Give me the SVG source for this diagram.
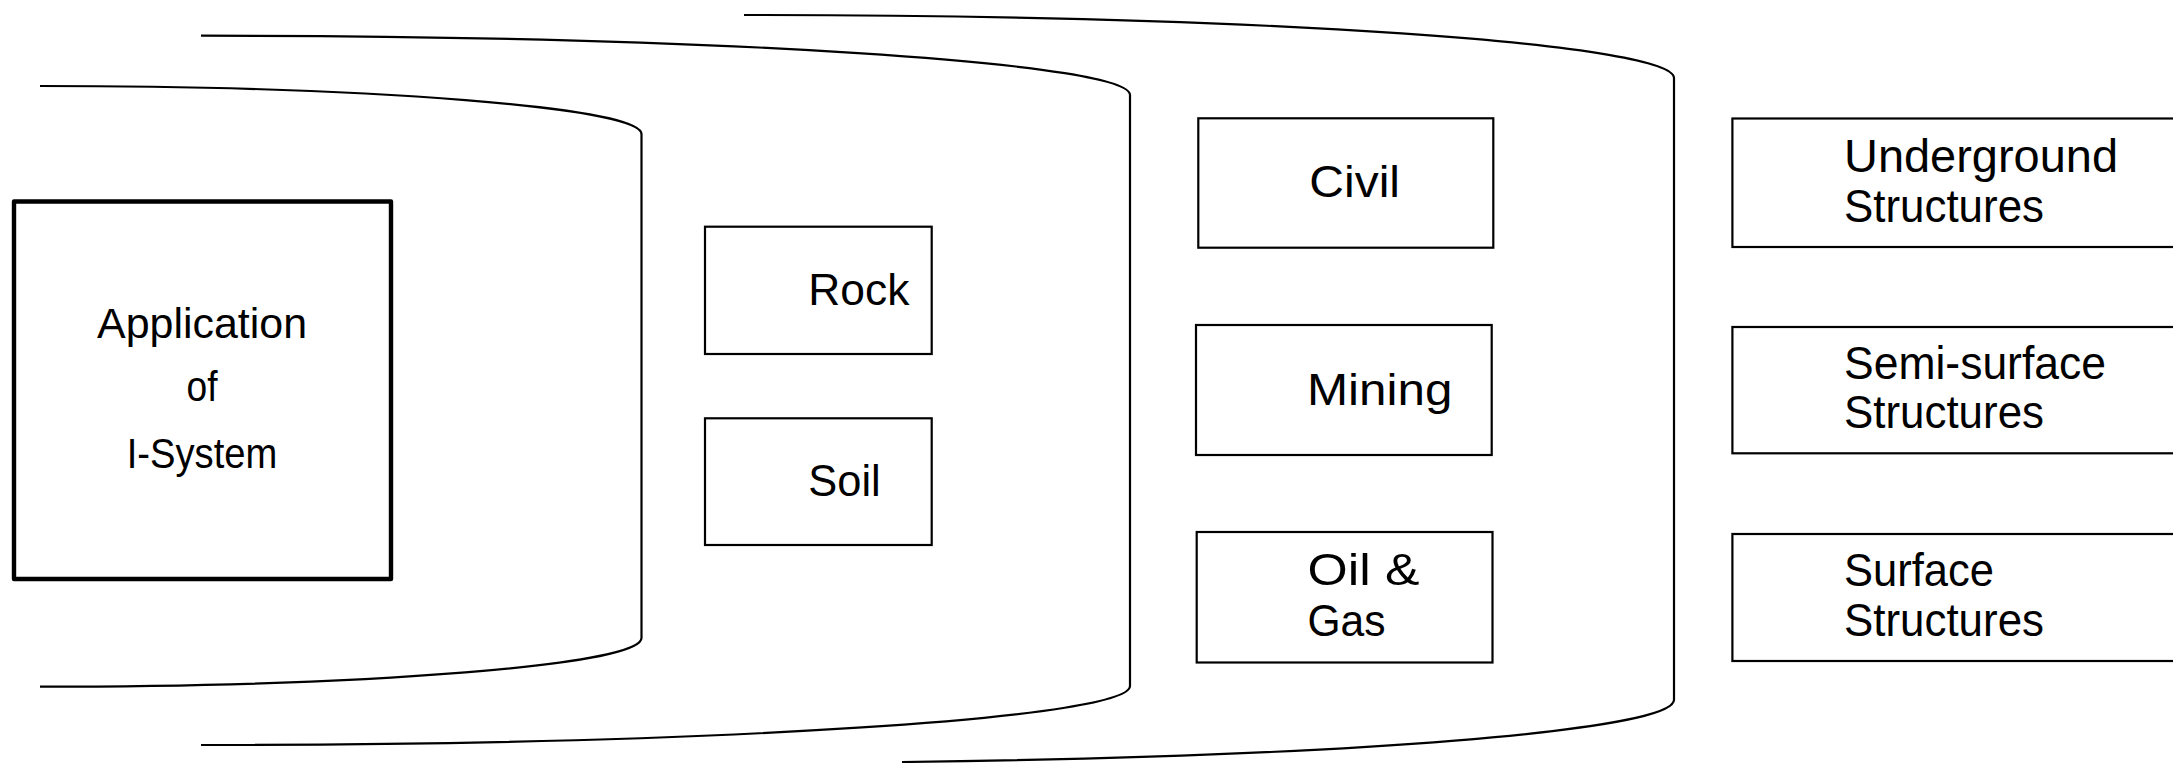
<svg xmlns="http://www.w3.org/2000/svg" width="2173" height="763" viewBox="0 0 2173 763">
<style>
.box{fill:none;stroke:#000;stroke-width:2.2}
.main{fill:none;stroke:#000;stroke-width:4.4;stroke-linejoin:round}
.shell{fill:none;stroke:#000;stroke-width:2.2}
text{font-family:"Liberation Sans",Arial,sans-serif;fill:#000}
.t42{font-size:42px}
.t45{font-size:45px}
.t47{font-size:47px}
</style>
<rect width="2173" height="763" fill="#fff"/>
<g id="connectors">
<path class="shell" d="M40 86 A601.5 48 0 0 1 641.5 134 V638 A601.5 48.7 0 0 1 40 686.7"/>
<path class="shell" d="M201 35.7 A929 59.3 0 0 1 1130 95 V686 A929 59 0 0 1 201 745"/>
<path class="shell" d="M744 15 A930 63 0 0 1 1674 78 V700 A930 63 0 0 1 902 762"/>
</g>
<g id="node-app">
<rect class="main" x="14" y="201.5" width="377" height="377.5"/>
<text class="t42" x="202" y="337.5" text-anchor="middle" textLength="210" lengthAdjust="spacingAndGlyphs">Application</text>
<text class="t42" x="202" y="401" text-anchor="middle" textLength="31" lengthAdjust="spacingAndGlyphs">of</text>
<text class="t42" x="202" y="468" text-anchor="middle" textLength="150.6" lengthAdjust="spacingAndGlyphs">I-System</text>
</g>
<g id="node-rock">
<rect class="box" x="705" y="226.7" width="226.7" height="127.3"/>
<text class="t45" x="808.3" y="305" textLength="101" lengthAdjust="spacingAndGlyphs">Rock</text>
</g>
<g id="node-soil">
<rect class="box" x="705" y="418.3" width="226.7" height="126.7"/>
<text class="t45" x="808.3" y="495.7" textLength="72.4" lengthAdjust="spacingAndGlyphs">Soil</text>
</g>
<g id="node-civil">
<rect class="box" x="1198.3" y="118.3" width="295" height="129.4"/>
<text class="t45" x="1309.3" y="197.3" textLength="90.7" lengthAdjust="spacingAndGlyphs">Civil</text>
</g>
<g id="node-mining">
<rect class="box" x="1196" y="325" width="295.7" height="130"/>
<text class="t45" x="1307" y="405" textLength="145.4" lengthAdjust="spacingAndGlyphs">Mining</text>
</g>
<g id="node-oilgas">
<rect class="box" x="1196.7" y="532" width="295.8" height="130.5"/>
<text class="t45" x="1307.5" y="585" textLength="112" lengthAdjust="spacingAndGlyphs">Oil &amp;</text>
<text class="t45" x="1307.5" y="636" textLength="78" lengthAdjust="spacingAndGlyphs">Gas</text>
</g>
<g id="node-underground">
<rect class="box" x="1732.4" y="118.5" width="470" height="128.5"/>
<text class="t47" x="1844" y="171.7" textLength="274" lengthAdjust="spacingAndGlyphs">Underground</text>
<text class="t47" x="1844" y="221.7" textLength="200" lengthAdjust="spacingAndGlyphs">Structures</text>
</g>
<g id="node-semisurface">
<rect class="box" x="1732.4" y="327" width="470" height="126.3"/>
<text class="t47" x="1844" y="379" textLength="262" lengthAdjust="spacingAndGlyphs">Semi-surface</text>
<text class="t47" x="1844" y="428.3" textLength="200" lengthAdjust="spacingAndGlyphs">Structures</text>
</g>
<g id="node-surface">
<rect class="box" x="1732.4" y="534" width="470" height="127"/>
<text class="t47" x="1844" y="585.7" textLength="150" lengthAdjust="spacingAndGlyphs">Surface</text>
<text class="t47" x="1844" y="636" textLength="200" lengthAdjust="spacingAndGlyphs">Structures</text>
</g>
</svg>
